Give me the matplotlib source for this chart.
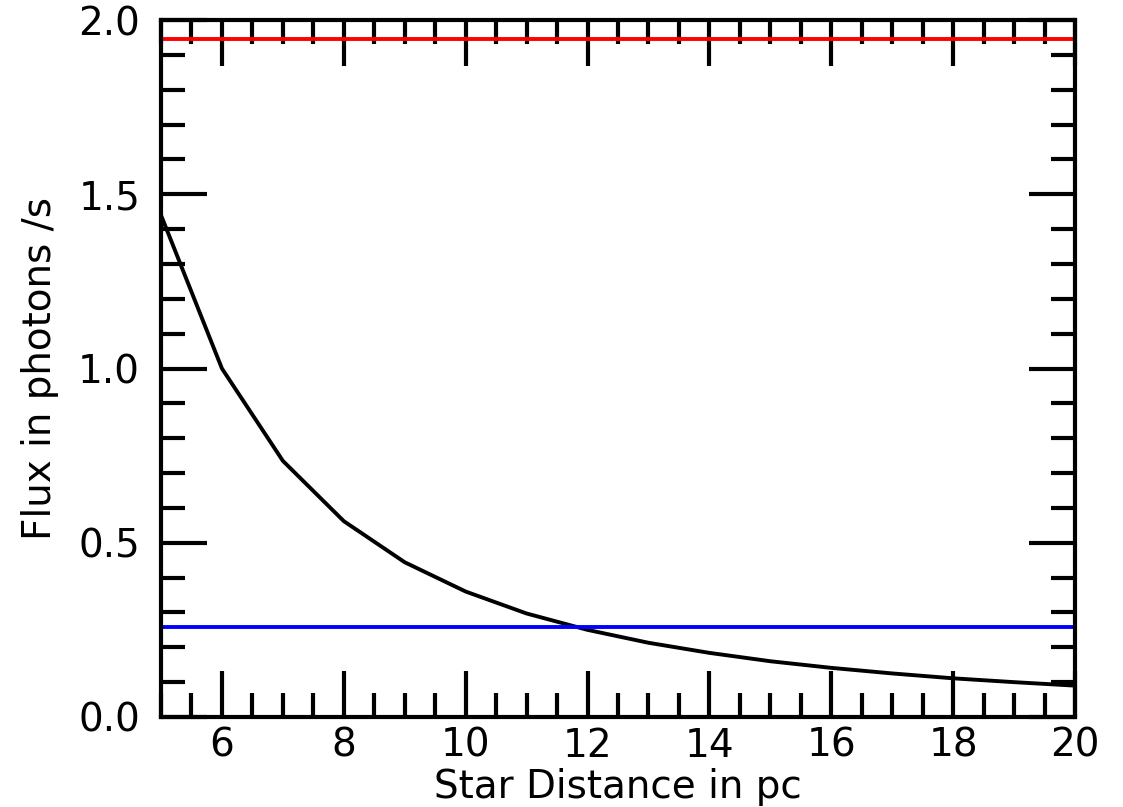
import numpy as np
import matplotlib.pyplot as plt

# distances (pc) and flux
distance = [5, 6, 7, 8, 9, 10, 11, 12, 13, 14, 15, 16, 17, 18, 19, 20]
flux = [1.44, 1.0, 0.735, 0.562, 0.444, 0.36, 0.297, 0.25, 0.213,
        0.184, 0.16, 0.141, 0.125, 0.111, 0.10, 0.09]
red_level = 1.945
blue_level = 0.258

plt.rcParams['font.family'] = ['DejaVu Sans']
fig = plt.figure(figsize=(11.23, 8.07), dpi=100)
ax = fig.add_axes([161 / 1123, 1 - 717 / 807, (1075 - 161) / 1123, (717 - 20) / 807])

ax.plot(distance, flux, color='black', lw=2.8)
ax.axhline(red_level, color='red', lw=2.8)
ax.axhline(blue_level, color='blue', lw=2.8)

ax.set_xlim(5, 20)
ax.set_ylim(0, 2.0)
ax.set_xticks(np.arange(6, 21, 2))
ax.set_xticks(np.arange(5, 20.01, 0.5), minor=True)
ax.set_yticks(np.arange(0, 2.01, 0.5))
ax.set_yticks(np.arange(0, 2.01, 0.1), minor=True)

ax.tick_params(which='both', direction='in', top=True, right=True, width=3,
               labelsize=28, colors='black')
ax.tick_params(which='major', length=33)
ax.tick_params(which='minor', length=17)
ax.tick_params(axis='x', which='major', pad=7)
ax.tick_params(axis='y', which='major', pad=15)
for s in ax.spines.values():
    s.set_linewidth(3)

ax.set_xlabel('Star Distance in pc', fontsize=28, labelpad=2)
ax.set_ylabel('Flux in photons /s', fontsize=28, labelpad=14)

fig.savefig('out.png', dpi=100)
